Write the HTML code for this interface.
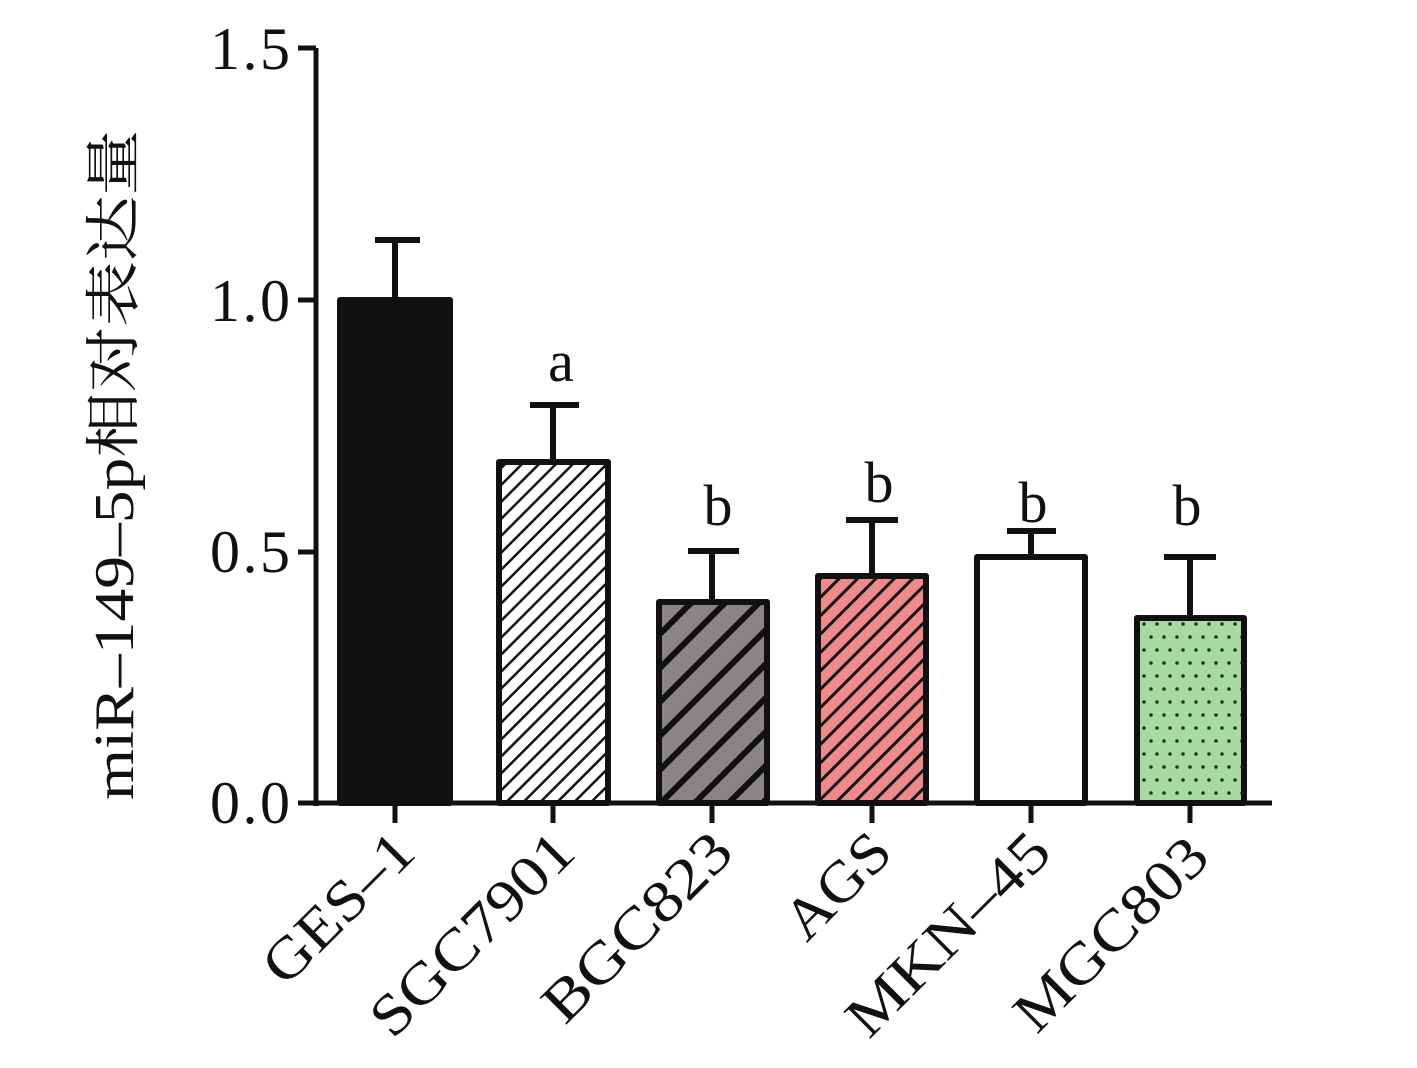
<!DOCTYPE html>
<html><head><meta charset="utf-8"><style>html,body{margin:0;padding:0;background:#fff}</style></head>
<body>
<svg width="1417" height="1063" viewBox="0 0 1417 1063" xmlns="http://www.w3.org/2000/svg" font-family="Liberation Serif, Noto Serif CJK SC, serif">
<defs>
<pattern id="h1" patternUnits="userSpaceOnUse" width="12" height="12" patternTransform="rotate(45)">
<rect width="12" height="12" fill="#fff"/><rect x="0" y="0" width="2.5" height="12" fill="#111"/></pattern>
<pattern id="h2" patternUnits="userSpaceOnUse" width="24" height="24" patternTransform="rotate(45)">
<rect width="24" height="24" fill="#8a8484"/><rect x="0" y="0" width="6" height="24" fill="#111"/></pattern>
<pattern id="h3" patternUnits="userSpaceOnUse" width="13" height="13" patternTransform="rotate(45)">
<rect width="13" height="13" fill="#f08a8a"/><rect x="0" y="0" width="3" height="13" fill="#111"/></pattern>
<pattern id="dots" patternUnits="userSpaceOnUse" width="26" height="26" x="1140" y="620">
<rect width="26" height="26" fill="#a8d8a4"/><circle cx="4" cy="4" r="1.8" fill="#1a3a1a"/><circle cx="17" cy="4" r="1.8" fill="#1a3a1a"/><circle cx="-2" cy="17" r="1.8" fill="#1a3a1a"/><circle cx="11" cy="17" r="1.8" fill="#1a3a1a"/><circle cx="24" cy="17" r="1.8" fill="#1a3a1a"/></pattern>
</defs>
<g stroke="#111" stroke-width="6" fill="none">
<line x1="395" y1="300" x2="395" y2="240"/><line x1="375" y1="240" x2="420" y2="240"/>
<line x1="553" y1="462" x2="553" y2="405"/><line x1="530" y1="405" x2="579" y2="405"/>
<line x1="712" y1="602" x2="712" y2="551"/><line x1="688" y1="551" x2="739" y2="551"/>
<line x1="872" y1="576" x2="872" y2="520"/><line x1="846" y1="520" x2="898" y2="520"/>
<line x1="1031" y1="557" x2="1031" y2="531"/><line x1="1007" y1="531" x2="1056" y2="531"/>
<line x1="1190" y1="618" x2="1190" y2="557"/><line x1="1164" y1="557" x2="1216" y2="557"/>
</g>
<g stroke="#111" stroke-width="6" stroke-linejoin="round">
<rect x="340" y="300" width="110" height="503" fill="#111"/>
<rect x="499" y="462" width="109" height="341" fill="url(#h1)"/>
<rect x="659" y="602" width="108" height="201" fill="url(#h2)"/>
<rect x="818" y="576" width="108" height="227" fill="url(#h3)"/>
<rect x="977" y="557" width="108" height="246" fill="#fff"/>
<rect x="1137" y="618" width="107" height="185" fill="url(#dots)"/>
</g>
<g stroke="#111" stroke-width="5" fill="none">
<line x1="316" y1="48" x2="316" y2="806"/>
<line x1="298" y1="803" x2="1272" y2="803"/>
<line x1="298" y1="48" x2="316" y2="48"/><line x1="298" y1="300" x2="316" y2="300"/><line x1="298" y1="552" x2="316" y2="552"/>
<line x1="395" y1="803" x2="395" y2="823"/><line x1="553" y1="803" x2="553" y2="823"/><line x1="712" y1="803" x2="712" y2="823"/>
<line x1="872" y1="803" x2="872" y2="823"/><line x1="1031" y1="803" x2="1031" y2="823"/><line x1="1190" y1="803" x2="1190" y2="823"/>
</g>
<g font-size="60" fill="#111" text-anchor="end">
<text x="290" y="69" textLength="80">1.5</text><text x="290" y="321" textLength="80">1.0</text><text x="290" y="572" textLength="80">0.5</text><text x="290" y="823" textLength="80">0.0</text>
</g>
<g font-size="58" fill="#111" text-anchor="middle">
<text x="561" y="381">a</text><text x="718" y="525">b</text><text x="879" y="502">b</text><text x="1033" y="522">b</text><text x="1187" y="525">b</text>
</g>
<text transform="translate(133,465) rotate(-90)" font-size="56" fill="#111" text-anchor="middle" textLength="670" lengthAdjust="spacingAndGlyphs">miR–149–5p相对表达量</text>
<g font-size="58" fill="#111" text-anchor="end">
<text transform="translate(418,855) rotate(-45)" textLength="188" lengthAdjust="spacingAndGlyphs">GES–1</text>
<text transform="translate(578,855) rotate(-45)" textLength="262" lengthAdjust="spacingAndGlyphs">SGC7901</text>
<text transform="translate(736,855) rotate(-45)" textLength="242" lengthAdjust="spacingAndGlyphs">BGC823</text>
<text transform="translate(895,855) rotate(-45)" textLength="125" lengthAdjust="spacingAndGlyphs">AGS</text>
<text transform="translate(1054,855) rotate(-45)" textLength="262" lengthAdjust="spacingAndGlyphs">MKN–45</text>
<text transform="translate(1212,860) rotate(-45)" textLength="248" lengthAdjust="spacingAndGlyphs">MGC803</text>
</g>
</svg>
</body></html>
